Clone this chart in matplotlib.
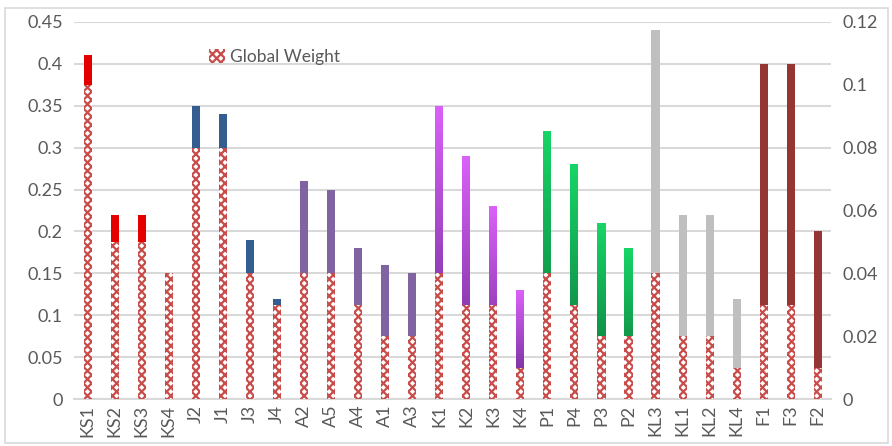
import numpy as np
import matplotlib
matplotlib.use("Agg")
from matplotlib import pyplot as plt
from matplotlib.patches import Rectangle, Patch
from matplotlib.colors import LinearSegmentedColormap

plt.rcParams['font.family'] = ['Lato', 'DejaVu Sans']
plt.rcParams['hatch.linewidth'] = 1.6

# criteria labels along the x axis
labels = ["KS1", "KS2", "KS3", "KS4", "J2", "J1", "J3", "J4",
          "A2", "A5", "A4", "A1", "A3", "K1", "K2", "K3", "K4",
          "P1", "P4", "P3", "P2", "KL3", "KL1", "KL2", "KL4",
          "F1", "F3", "F2"]

# local weight per criterion (left axis)
local_weight = [0.41, 0.22, 0.22, 0.15, 0.35, 0.34, 0.19, 0.12,
                0.26, 0.25, 0.18, 0.16, 0.15, 0.35, 0.29, 0.23, 0.13,
                0.32, 0.28, 0.21, 0.18, 0.44, 0.22, 0.22, 0.12,
                0.40, 0.40, 0.20]

# global weight per criterion (right axis)
global_weight = [0.10, 0.05, 0.05, 0.04, 0.08, 0.08, 0.04, 0.03,
                 0.04, 0.04, 0.03, 0.02, 0.02, 0.04, 0.03, 0.03, 0.01,
                 0.04, 0.03, 0.02, 0.02, 0.04, 0.02, 0.02, 0.01,
                 0.03, 0.03, 0.01]

# group of each criterion -> colour
groups = ["KS"] * 4 + ["J"] * 4 + ["A"] * 5 + ["K"] * 4 + ["P"] * 4 + ["KL"] * 4 + ["F"] * 3
colors = {"KS": "#E50000", "J": "#335E8F", "A": "#8064A2",
          "KL": "#BFBFBF", "F": "#943634"}
gradients = {"K": ["#5E2688", "#DA60F8"], "P": ["#0B6E36", "#17D466"]}

fig = plt.figure(figsize=(8.92, 4.46), dpi=100)
ax = fig.add_axes([0.083, 0.105, 0.849, 0.846])
ax2 = ax.twinx()

x = np.arange(len(labels))
w = 0.3
n_steps = 80

for xi, g, v in zip(x, groups, local_weight):
    if g in gradients:
        # gradient fill: stack of thin slices from dark (bottom) to light (top)
        cmap = LinearSegmentedColormap.from_list(g, gradients[g])
        h = v / n_steps
        for i in range(n_steps):
            ax.bar(xi, h * 1.02, bottom=i * h, width=w, color=cmap(i / (n_steps - 1)),
                   linewidth=0, zorder=2)
    else:
        ax.bar(xi, v, width=w, color=colors[g], linewidth=0, zorder=2)

ax.set_xlim(-0.5, len(labels) - 0.5)
ax.set_ylim(0, 0.45)
ax.set_yticks(np.arange(0, 0.451, 0.05))
ax.set_yticklabels(["0", "0.05", "0.1", "0.15", "0.2", "0.25", "0.3", "0.35", "0.4", "0.45"])
ax.set_xticks(x)
ax.set_xticklabels(labels, rotation=90)
ax.grid(axis="y", color="#D9D9D9", linewidth=1.5, zorder=0)
ax.set_axisbelow(True)

ax2.bar(x, global_weight, width=w, facecolor="white", edgecolor="#C84C4A",
        hatch="xxxx", linewidth=0, zorder=3)
ax2.set_ylim(0, 0.12)
ax2.set_yticks(np.arange(0, 0.121, 0.02))
ax2.set_yticklabels(["0", "0.02", "0.04", "0.06", "0.08", "0.1", "0.12"])

for a in (ax, ax2):
    for s in a.spines.values():
        s.set_visible(False)
    a.tick_params(length=0, labelsize=13, colors="#595959", pad=8)
ax.spines["bottom"].set_visible(True)
ax.spines["bottom"].set_color("#D9D9D9")
ax.spines["bottom"].set_linewidth(1.5)
ax.tick_params(axis="x", pad=4)

handle = Patch(facecolor="white", edgecolor="#C84C4A", hatch="xxxx", linewidth=0)
ax.legend([handle], ["Global Weight"], loc="upper left", bbox_to_anchor=(0.158, 0.97),
          frameon=False, fontsize=12.5, handlelength=0.9, handleheight=0.9,
          handletextpad=0.3, labelcolor="#595959")

# chart border
fig.patches.append(Rectangle((0.006, 0.007), 0.99, 0.975, transform=fig.transFigure,
                             fill=False, edgecolor="#D9D9D9", linewidth=1.2))

fig.savefig("out.png", dpi=100)
